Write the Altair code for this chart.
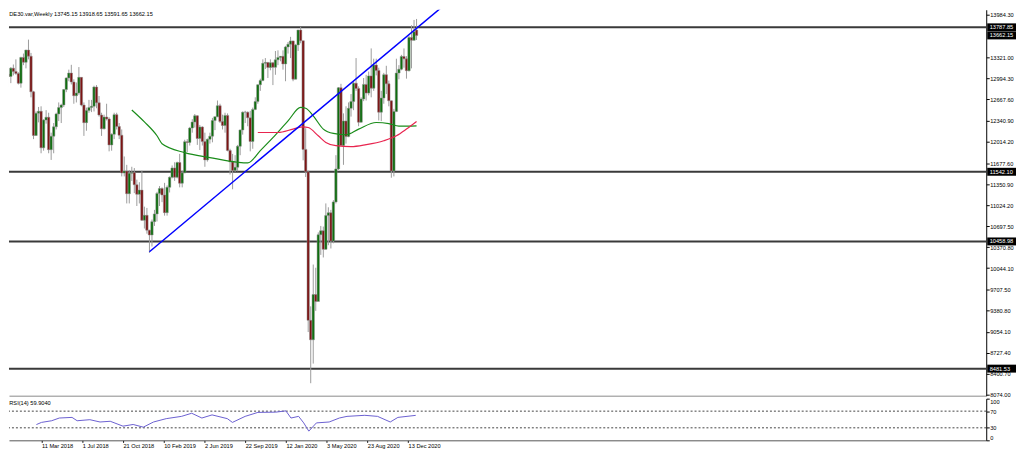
import json
import altair as alt
import pandas as pd

# ---------------- data ----------------
week = list(range(164))
opens = [12990, 13060, 13024, 13153, 13103, 13072, 12918, 13320, 13245, 13434,
         13340, 12785, 12107, 12452, 12483, 11914, 12346, 12390, 11886, 12096,
         12241, 12442, 12540, 12580, 12820, 13001, 13077, 12938, 12724, 12767,
         13010, 12579, 12306, 12496, 12541, 12561, 12860, 12615, 12424, 12210,
         12394, 12364, 11959, 12124, 12430, 12246, 12111, 11523, 11553, 11201,
         11519, 11529, 11341, 11192, 11257, 10788, 10865, 10634, 10559, 10767,
         10887, 11205, 11281, 11181, 10907, 11300, 11457, 11602, 11458, 11686,
         11364, 11526, 12010, 11999, 12222, 12315, 12413, 12060, 12239, 12011,
         11727, 12046, 12096, 12340, 12399, 12569, 12323, 12261, 12419, 11872,
         11694, 11563, 11612, 11939, 12192, 12469, 12468, 12381, 12013, 12512,
         12634, 12895, 12961, 13229, 13242, 13164, 13236, 13166, 13283, 13319,
         13337, 13219, 13483, 13526, 13577, 12982, 13514, 13745, 13579, 11890,
         11542, 9232, 8929, 9633, 9526, 10564, 10626, 10336, 10861, 10905,
         10465, 11074, 11587, 12848, 11949, 12331, 12089, 12528, 12633, 12920,
         12838, 12313, 12674, 12901, 12765, 13033, 12842, 13202, 13116, 12469,
         12689, 13051, 12909, 12646, 11556, 12480, 13077, 13137, 13335, 13298,
         13114, 13631, 13587, 13745]
highs = [13160, 13170, 13170, 13210, 13290, 13090, 13330, 13380, 13440, 13597,
         13390, 12800, 12480, 12550, 12560, 12360, 12500, 12460, 12150, 12300,
         12460, 12620, 12600, 12830, 13010, 13130, 13205, 12980, 12930, 13170,
         13010, 12620, 12540, 12660, 12660, 12880, 12890, 12720, 12460, 12430,
         12600, 12390, 12140, 12460, 12460, 12300, 12200, 11780, 11650, 11570,
         11620, 11600, 11420, 11380, 11560, 11000, 10980, 10640, 10800, 10950,
         11230, 11320, 11300, 11370, 11330, 11470, 11640, 11690, 11700, 11820,
         11560, 12040, 12050, 12240, 12360, 12440, 12420, 12270, 12250, 12150,
         12060, 12150, 12380, 12400, 12650, 12600, 12430, 12460, 12450, 11900,
         11820, 11800, 11960, 12200, 12480, 12490, 12480, 12490, 12540, 12700,
         12900, 12990, 13290, 13310, 13250, 13290, 13250, 13420, 13430, 13340,
         13430, 13500, 13560, 13640, 13580, 13530, 13750, 13795, 13580, 12220,
         11560, 9450, 10100, 10050, 10600, 10700, 10690, 11050, 10990, 10950,
         11100, 11800, 12860, 12910, 12450, 12560, 12620, 12750, 12950, 13310,
         12870, 12700, 13000, 13050, 13100, 13460, 13300, 13300, 13160, 12800,
         13080, 13190, 12960, 12650, 12520, 13300, 13200, 13360, 13460, 13340,
         13660, 13820, 13903, 13918]
lows = [12900, 12860, 12920, 13040, 13050, 12900, 12850, 13200, 13150, 13290,
        12700, 12050, 12100, 12310, 11830, 11870, 12290, 11830, 11726, 11830,
        12200, 12330, 12300, 12550, 12780, 12950, 12900, 12600, 12620, 12740,
        12560, 12100, 12180, 12460, 12470, 12480, 12530, 12400, 12100, 12200,
        12340, 11860, 11870, 12050, 12200, 12050, 11470, 11470, 11050, 11050,
        11400, 11210, 11010, 11050, 10780, 10660, 10580, 10280, 10380, 10700,
        10770, 11010, 11070, 10860, 10860, 11220, 11440, 11400, 11440, 11300,
        11300, 11520, 11850, 11950, 12150, 12230, 11960, 11880, 11950, 11620,
        11700, 11980, 12000, 12190, 12390, 12300, 12200, 12150, 11860, 11500,
        11270, 11540, 11550, 11800, 12120, 12300, 12250, 11860, 11900, 12500,
        12600, 12800, 12950, 13140, 13000, 13120, 12890, 13050, 13200, 13260,
        13130, 12950, 13380, 13310, 12950, 12980, 13420, 13540, 11720, 11460,
        9050, 8255, 8560, 9380, 9540, 10250, 10210, 10330, 10400, 10350,
        10430, 11050, 11570, 11960, 11650, 11980, 12080, 12400, 12500, 12800,
        12250, 12310, 12640, 12650, 12730, 12700, 12800, 13040, 12340, 12330,
        12600, 12750, 12560, 11450, 11470, 12470, 12980, 13120, 13160, 12990,
        13100, 13150, 13580, 13591]
closes = [13060, 13024, 13153, 13103, 13072, 12918, 13320, 13245, 13434, 13340,
          12785, 12107, 12452, 12483, 11914, 12346, 12390, 11886, 12096, 12241,
          12442, 12540, 12580, 12820, 13001, 13077, 12938, 12724, 12767, 13010,
          12579, 12306, 12496, 12541, 12561, 12860, 12615, 12424, 12210, 12394,
          12364, 11959, 12124, 12430, 12246, 12111, 11523, 11553, 11201, 11519,
          11529, 11341, 11192, 11257, 10788, 10865, 10634, 10559, 10767, 10887,
          11205, 11281, 11181, 10907, 11300, 11457, 11602, 11458, 11686, 11364,
          11526, 12010, 11999, 12222, 12315, 12413, 12060, 12239, 12011, 11727,
          12046, 12096, 12340, 12399, 12569, 12323, 12261, 12419, 11872, 11694,
          11563, 11612, 11939, 12192, 12469, 12468, 12381, 12013, 12512, 12634,
          12895, 12961, 13229, 13242, 13164, 13236, 13166, 13283, 13319, 13337,
          13219, 13483, 13526, 13577, 12982, 13514, 13745, 13579, 11890, 11542,
          9232, 8929, 9633, 9526, 10564, 10626, 10336, 10861, 10905, 10465,
          11074, 11587, 12848, 11949, 12331, 12089, 12528, 12633, 12920, 12838,
          12313, 12674, 12901, 12765, 13033, 12842, 13202, 13116, 12469, 12689,
          13051, 12909, 12646, 11556, 12480, 13077, 13137, 13335, 13298, 13114,
          13631, 13587, 13718, 13662]

ma_green_i = [50, 55, 60, 62, 71, 81, 92, 96, 101, 106, 112, 117, 119, 122,
              126, 130, 135, 140, 147, 152, 156, 163]
ma_green_v = [12503, 12318, 12102, 11979, 11840, 11763, 11690, 11680, 11871,
              12072, 12334, 12542, 12530, 12411, 12206, 12138, 12118, 12206,
              12308, 12292, 12252, 12257]
ma_red_i = [100, 108, 114, 118, 120, 124, 127, 131, 137, 143, 150, 155, 159, 163]
ma_red_v = [12153, 12153, 12206, 12241, 12230, 12102, 11999, 11948, 11933,
            11964, 12025, 12102, 12206, 12323]

trend_i = [57, 176]
trend_v = [10298, 14199]

levels = [13787.85, 11542.10, 10458.98, 8481.53]
box_levels = [13787.85, 13662.15, 11542.10, 10458.98, 8481.53]
price_ticks = [13984.30, 13321.00, 12994.30, 12667.60, 12340.90, 12014.20,
               11677.60, 11350.90, 11024.20, 10697.50, 10370.80, 10044.10,
               9707.50, 9380.80, 9054.10, 8727.40, 8400.70, 8074.00]

rsi_i = [14, 16, 20, 23, 28, 30, 35, 39, 43, 48, 52, 56, 60, 65, 71, 75, 79,
         83, 89, 91, 96, 101, 108, 112, 114, 117, 119, 121, 124, 129, 133, 136,
         143, 148, 153, 156, 163]
rsi_v = [37.8, 43, 47, 53.5, 55, 47, 49.5, 44, 45.7, 34, 38, 31.6, 44, 52,
         57.5, 65, 53.5, 61, 52, 43, 57.5, 67, 67.6, 70.7, 53.5, 57.5, 41.8,
         22, 41.8, 44, 53.5, 57.5, 60, 57.5, 44, 55, 59.9]
rsi_levels = [70, 30]

date_ticks = [16, 32, 48, 64, 80, 96, 112, 128, 144, 160]
date_labels = ['19 Nov 2017', '11 Mar 2018', '1 Jul 2018', '21 Oct 2018',
               '10 Feb 2019', '2 Jun 2019', '22 Sep 2019', '12 Jan 2020',
               '3 May 2020', '23 Aug 2020', '13 Dec 2020']

title_text = "DE30.var,Weekly  13745.15 13918.65 13591.65 13662.15"
rsi_title = "RSI(14) 59.9040"

# ---------------- layout constants ----------------
W = 985
H_MAIN = 389
H_RSI = 42
X_DOM = [3.2346, 387.1]
PX = 15.425
Y_TOP = 14061.4
Y_DOM = [Y_TOP - H_MAIN * PX, Y_TOP]
FONT = "Liberation Sans"
FS = 5.7

GREEN_BODY = "#0d6e0d"
RED_BODY = "#7d1414"
WICK = "#9c9c9c"

candles = pd.DataFrame(dict(i=week, open=opens, high=highs, low=lows, close=closes))
green = pd.DataFrame(dict(i=ma_green_i, v=ma_green_v))
red = pd.DataFrame(dict(i=ma_red_i, v=ma_red_v))
trend = pd.DataFrame(dict(i=trend_i, v=trend_v))
lv = pd.DataFrame(dict(v=levels))
boxes = pd.DataFrame(dict(v=box_levels, lbl=[f"{b:.2f}" for b in box_levels]))
rsi = pd.DataFrame(dict(i=rsi_i, v=rsi_v))
rsil = pd.DataFrame(dict(v=rsi_levels))

xs = alt.Scale(domain=X_DOM, nice=False, zero=False)
ys = alt.Scale(domain=Y_DOM, nice=False, zero=False)

ax_x_main = alt.Axis(labels=False, ticks=False, domain=True, domainColor="#8a8a8a",
                     grid=False, title=None)
ax_y_main = alt.Axis(orient="right", values=price_ticks, format=".2f", grid=False,
                     title=None, tickSize=3, labelPadding=0.5, tickColor="#000",
                     domainColor="#000", labelColor="#000", labelFont=FONT,
                     labelFontSize=FS, labelOverlap=False)

X = alt.X("i:Q", scale=xs, axis=ax_x_main)
Y = lambda f: alt.Y(f"{f}:Q", scale=ys, axis=ax_y_main)

wicks = alt.Chart(candles).mark_rule(color=WICK, strokeWidth=1, clip=True).encode(
    x=X, y=Y("low"), y2="high")
bodies = alt.Chart(candles).mark_bar(size=2.4, clip=True, stroke="#8e8e8e",
                                     strokeWidth=0.5).encode(
    x=X, y=Y("open"), y2="close",
    color=alt.condition("datum.close >= datum.open", alt.value(GREEN_BODY), alt.value(RED_BODY)))
g_line = alt.Chart(green).mark_line(color="#1a8c1a", strokeWidth=1.2, clip=True,
                                    interpolate="monotone").encode(x=X, y=Y("v"))
r_line = alt.Chart(red).mark_line(color="#e8254f", strokeWidth=1.2, clip=True,
                                  interpolate="monotone").encode(x=X, y=Y("v"))
t_line = alt.Chart(trend).mark_line(color="#0000ff", strokeWidth=1.5, clip=True).encode(
    x=X, y=Y("v"))
h_lines = alt.Chart(lv).mark_rule(color="#3a3a3a", strokeWidth=2).encode(y=Y("v"))
box_rect = alt.Chart(boxes).transform_calculate(
    lo=f"datum.v - {4 * PX}", hi=f"datum.v + {4 * PX}"
).mark_rect(color="#000").encode(
    x=alt.value(986), x2=alt.value(1015), y=Y("lo"), y2="hi")
box_text = alt.Chart(boxes).mark_text(align="left", baseline="middle", color="#fff",
                                      font=FONT, fontSize=FS).encode(
    x=alt.value(988.5), y=Y("v"), text="lbl:N")
title = alt.Chart(pd.DataFrame(dict(t=[title_text]))).mark_text(
    align="left", baseline="top", font=FONT, fontSize=FS, color="#000").encode(
    x=alt.value(0.3), y=alt.value(1), text="t:N")

main = alt.layer(h_lines, wicks, bodies, g_line, r_line, t_line, box_rect, box_text,
                 title).properties(width=W, height=H_MAIN)

# ---------------- RSI panel ----------------
label_expr = f"{json.dumps(date_labels)}[round(datum.value / 16)]"
ax_x_rsi = alt.Axis(values=date_ticks, labelExpr=label_expr, grid=False, title=None,
                    labelAlign="left", labelFont=FONT, labelFontSize=FS,
                    labelColor="#000", tickSize=2, tickColor="#000",
                    domainColor="#555", labelPadding=0, labelOverlap=False,
                    labelFlush=False)
ax_y_rsi = alt.Axis(orient="right", values=[0, 30, 70, 100], grid=False, title=None,
                    tickSize=3, labelPadding=0.5, labelFont=FONT, labelFontSize=FS,
                    labelColor="#000", tickColor="#000", domainColor="#000",
                    labelFlush=True)
rs = alt.Scale(domain=[0, 100], nice=False, zero=False)

rsi_line = alt.Chart(rsi).mark_line(color="#6a5fd0", strokeWidth=1, clip=True).encode(
    x=alt.X("i:Q", scale=xs, axis=ax_x_rsi),
    y=alt.Y("v:Q", scale=rs, axis=ax_y_rsi))
rsi_rules = alt.Chart(rsil).mark_rule(color="#444", strokeWidth=1, strokeDash=[2, 2]).encode(
    y=alt.Y("v:Q", scale=rs, axis=ax_y_rsi))
rsi_lbl = alt.Chart(pd.DataFrame(dict(t=[rsi_title]))).mark_text(
    align="left", baseline="top", font=FONT, fontSize=FS, color="#000").encode(
    x=alt.value(0.3), y=alt.value(1.5), text="t:N")

rsi_panel = alt.layer(rsi_rules, rsi_line, rsi_lbl).properties(width=W, height=H_RSI)

chart = alt.vconcat(main, rsi_panel, spacing=3, bounds="flush").properties(
    padding=0, background="#ffffff"
).configure_view(stroke=None)

chart.save("out.html", embed_options={"renderer": "svg", "actions": False})
